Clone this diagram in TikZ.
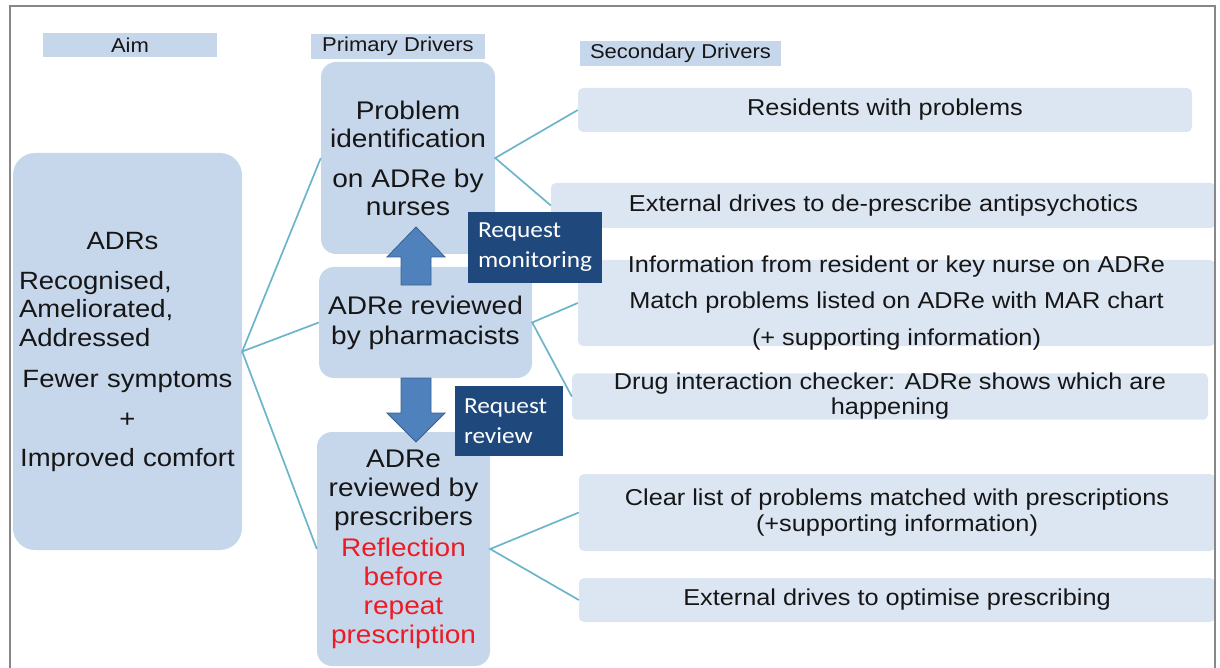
\documentclass[tikz,border=0pt]{standalone}
\usepackage{fontspec}
\setmainfont{Liberation Sans}[FakeStretch=1.1]
\newfontfamily\calib{Carlito}[FakeStretch=1.1]
\definecolor{boxblue}{RGB}{199,215,235}
\definecolor{secblue}{RGB}{220,230,242}
\definecolor{navy}{RGB}{31,73,125}
\definecolor{arrowfill}{RGB}{79,129,189}
\definecolor{arrowedge}{RGB}{58,96,142}
\definecolor{connc}{RGB}{108,180,202}
\definecolor{framec}{RGB}{135,135,135}
\definecolor{adrred}{RGB}{235,28,36}
\definecolor{txt}{RGB}{22,22,22}
\begin{document}
\begin{tikzpicture}[x=1pt,y=-1pt,
  lab/.style={fill=boxblue, inner sep=0pt, text=txt, font=\fontsize{20}{22}\selectfont},
  aimbox/.style={fill=boxblue, rounded corners=22pt, inner sep=0pt, align=center, text=txt, font=\fontsize{25}{28}\selectfont},
  pbox/.style={fill=boxblue, rounded corners=15pt, inner sep=0pt, align=center, text=txt},
  sbox/.style={fill=secblue, rounded corners=5pt, inner sep=0pt, align=center, text=txt, font=\fontsize{23}{26}\selectfont},
  req/.style={fill=navy, inner xsep=10pt, inner ysep=0pt, align=left, text=white, font=\calib\fontsize{23}{30}\selectfont},
  conn/.style={draw=connc, line width=1.7pt},
  blockarrow/.style={fill=arrowfill, draw=arrowedge, line width=0.8pt}
]
\useasboundingbox (0,0) rectangle (1220,668);

% column labels
\node[lab, minimum width=174pt, minimum height=24pt] (labaim) at (130,45) {Aim};
\node[lab, minimum width=174pt, minimum height=25pt] (labpri) at (398,46.5) {Primary Drivers};
\node[lab, minimum width=201pt, minimum height=25pt] (labsec) at (680.5,53.5) {Secondary Drivers};

% aim
\node[aimbox, minimum width=229pt, minimum height=397pt, text width=217pt] (aim) at (127.5,351.5)
  {\makebox[217pt][c]{\hspace*{-10pt}ADRs}\\[12pt]
   \makebox[217pt][l]{Recognised,}\\
   \makebox[217pt][l]{Ameliorated,}\\[1pt]
   \makebox[217pt][l]{Addressed}\\[13pt]
   Fewer symptoms\\[12pt]
   +\\[11pt]
   Improved comfort};

% primary drivers
\node[pbox, minimum width=174pt, minimum height=192pt, font=\fontsize{25.5}{28}\selectfont] (prob) at (408,158)
  {Problem\\identification\\[12pt]on ADRe by\\nurses};
\node[pbox, minimum width=213pt, minimum height=111pt, font=\fontsize{25.5}{30}\selectfont] (pharm) at (425.5,322.5)
  {ADRe reviewed\\by pharmacists};
\node[pbox, minimum width=173pt, minimum height=234pt, font=\fontsize{25.5}{29}\selectfont] (presc) at (403.5,549)
  {ADRe\\reviewed by\\prescribers\\[2pt]
   \textcolor{adrred}{Reflection}\\
   \textcolor{adrred}{before}\\
   \textcolor{adrred}{repeat}\\
   \textcolor{adrred}{prescription}};

% secondary drivers
\node[sbox, minimum width=614pt, minimum height=44pt] (s1) at (885,110) {Residents with problems};
\node[sbox, minimum width=665pt, minimum height=45pt] (s2) at (883.5,205.5) {External drives to de-prescribe antipsychotics};
\node[sbox, minimum width=637pt, minimum height=86pt] (s3) at (896.5,303) {};
\node[inner sep=0pt, align=center, text=txt, font=\fontsize{23}{36}\selectfont] (s3t) at (s3.center)
  {Information from resident or key nurse on ADRe\\Match problems listed on ADRe with MAR chart\\[1pt](+ supporting information)};
\node[sbox, minimum width=636pt, minimum height=45pt, font=\fontsize{23}{25}\selectfont] (s4) at (890,396.5)
  {Drug interaction checker: ADRe shows which are\\happening};
\node[sbox, minimum width=636pt, minimum height=77pt] (s5) at (897,512.5)
  {Clear list of problems matched with prescriptions\\(+supporting information)};
\node[sbox, minimum width=636pt, minimum height=44pt] (s6) at (897,600) {External drives to optimise prescribing};

% connectors
\draw[conn] (prob.west) -- (aim.east) -- (pharm.west);
\draw[conn] (aim.east) -- (presc.west);
\draw[conn] (s1.west) -- (prob.east) -- (s2.west);
\draw[conn] (s3.west) -- (pharm.east) -- (s4.west);
\draw[conn] (s5.west) -- (presc.east) -- (s6.west);

% block arrows
\draw[blockarrow] (401,285) -- (401,257) -- (387,257) -- (416,227) -- (445,257) -- (431,257) -- (431,285) -- cycle;
\draw[blockarrow] (401,378) -- (401,413) -- (387,413) -- (416,442) -- (445,413) -- (431,413) -- (431,378) -- cycle;

% request boxes
\node[req, minimum width=134pt, minimum height=71pt, text width=114pt] (reqm) at (535,247.5) {Request\\monitoring};
\node[req, minimum width=108pt, minimum height=70pt, inner xsep=9pt, text width=90pt] (reqr) at (509,421) {Request\\review};

% frame
\draw[framec, line width=1.5pt] (10,668) -- (10,6) -- (1215,6) -- (1215,668);
\end{tikzpicture}
\end{document}
